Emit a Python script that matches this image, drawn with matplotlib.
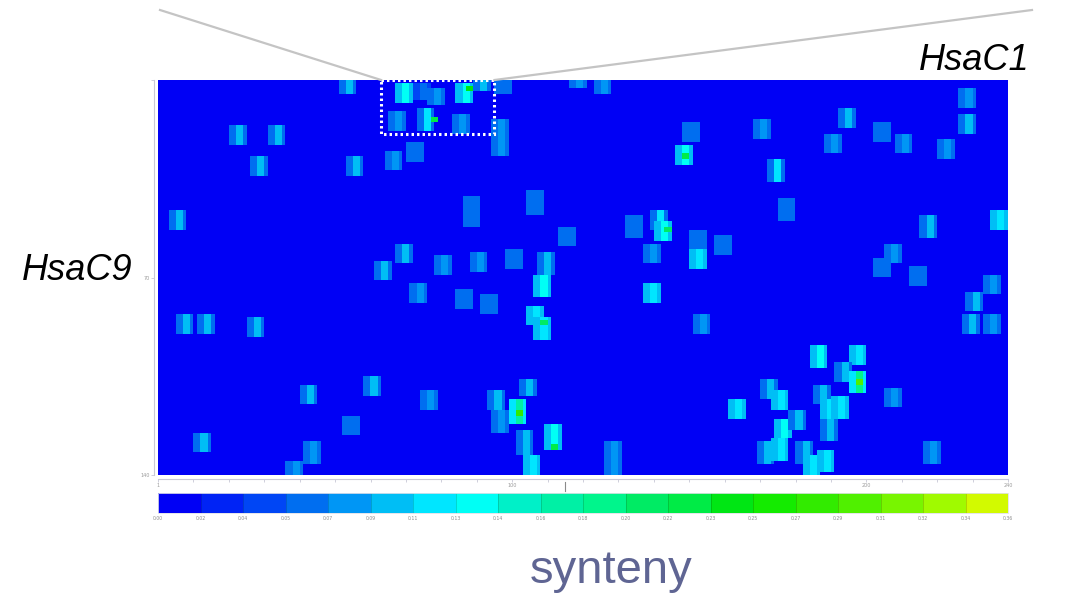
import numpy as np
import matplotlib
matplotlib.use("Agg")
import matplotlib.pyplot as plt
from matplotlib.colors import ListedColormap, BoundaryNorm
from matplotlib.colorbar import ColorbarBase
from matplotlib.patches import Rectangle
from matplotlib.lines import Line2D

# ---- genome extents (Mb) ----
HSA1_LEN = 240
HSA9_LEN = 140

# ---- syntenic blocks: start on HsaC1 (x, Mb), start on HsaC9 (y, Mb),
#      span on HsaC9 (Mb), flank score and core score ----
block_x = [51, 67, 72, 76, 84, 89, 65, 73, 83, 94, 95, 20, 31, 26, 53, 64, 70,
           116, 123, 226, 226, 192, 168, 202, 148, 146, 188, 208, 220, 172,
           86, 104, 3, 113, 132, 139, 140, 150, 150, 157, 175, 215, 235,
           67, 61, 78, 88, 98, 107, 106, 137, 137, 202, 205, 212, 71, 84, 91,
           233, 228, 5, 11, 25, 104, 106, 151, 227, 233, 184, 195, 191, 195,
           58, 74, 40, 93, 94, 99, 102, 170, 173, 185, 187, 190, 205, 161,
           52, 174, 178, 187, 10, 101, 109, 126, 169, 173, 180, 182, 186,
           216, 36, 103, 41]
block_y = [0, 1, 1, 3, 1, 0, 11, 10, 12, 14, 0, 16, 16, 27, 27, 25, 22,
           0, 0, 3, 12, 10, 14, 15, 15, 23, 19, 19, 21, 28,
           41, 39, 46, 52, 48, 46, 50, 53, 60, 55, 42, 48, 46,
           58, 64, 62, 61, 60, 61, 69, 58, 72, 63, 58, 66, 72, 74, 76,
           69, 75, 83, 83, 84, 80, 84, 83, 83, 83, 94, 94, 100, 103,
           105, 110, 108, 110, 117, 113, 106, 106, 110, 108, 113, 112, 109, 113,
           119, 120, 117, 120, 125, 124, 122, 128, 128, 127, 128, 133, 131,
           128, 135, 133, 128]
block_h = [5, 7, 6, 6, 7, 4, 7, 8, 7, 13, 5, 7, 7, 7, 7, 7, 7,
           3, 5, 7, 7, 7, 7, 7, 7, 7, 7, 7, 7, 8,
           11, 9, 7, 7, 8, 7, 7, 7, 7, 7, 8, 8, 7,
           7, 7, 7, 7, 7, 8, 8, 7, 7, 7, 7, 7, 7, 7, 7,
           7, 7, 7, 7, 7, 7, 8, 7, 7, 7, 8, 7, 7, 8,
           7, 7, 7, 7, 8, 9, 6, 7, 7, 7, 7, 8, 7, 7,
           7, 7, 7, 8, 7, 9, 9, 12, 8, 8, 8, 7, 8,
           8, 5, 7, 8]
block_flank = [0.07, 0.10, 0.05, 0.06, 0.10, 0.07, 0.07, 0.07, 0.07, 0.06, 0.06,
               0.07, 0.07, 0.07, 0.07, 0.06, 0.06,
               0.06, 0.06, 0.06, 0.06, 0.07, 0.06, 0.06, 0.06, 0.10, 0.06, 0.06,
               0.06, 0.07,
               0.06, 0.06, 0.07, 0.06, 0.06, 0.07, 0.10, 0.06, 0.10, 0.06, 0.06,
               0.07, 0.09,
               0.07, 0.07, 0.07, 0.07, 0.06, 0.07, 0.10, 0.06, 0.09, 0.06, 0.06,
               0.06, 0.06, 0.06, 0.06,
               0.06, 0.07, 0.07, 0.07, 0.07, 0.09, 0.09, 0.06, 0.07, 0.06, 0.10,
               0.10, 0.07, 0.12,
               0.07, 0.07, 0.07, 0.07, 0.06, 0.12, 0.07, 0.07, 0.10, 0.07, 0.09,
               0.10, 0.06, 0.09,
               0.06, 0.10, 0.07, 0.07, 0.07, 0.07, 0.10, 0.06, 0.07, 0.10, 0.07,
               0.09, 0.09,
               0.06, 0.06, 0.10, 0.06]
block_core = [0.09, 0.13, 0.07, 0.08, 0.13, 0.09, 0.08, 0.12, 0.08, 0.08, 0.07,
              0.10, 0.10, 0.10, 0.10, 0.08, 0.07,
              0.08, 0.08, 0.08, 0.09, 0.10, 0.08, 0.07, 0.07, 0.13, 0.08, 0.08,
              0.08, 0.12,
              0.07, 0.07, 0.10, 0.07, 0.07, 0.11, 0.13, 0.07, 0.12, 0.07, 0.07,
              0.09, 0.11,
              0.09, 0.09, 0.08, 0.08, 0.07, 0.10, 0.13, 0.08, 0.12, 0.07, 0.08,
              0.07, 0.08, 0.07, 0.07,
              0.08, 0.09, 0.10, 0.09, 0.10, 0.12, 0.12, 0.08, 0.10, 0.08, 0.13,
              0.12, 0.10, 0.19,
              0.09, 0.08, 0.09, 0.09, 0.08, 0.17, 0.10, 0.10, 0.12, 0.09, 0.12,
              0.12, 0.08, 0.11,
              0.07, 0.14, 0.09, 0.10, 0.10, 0.09, 0.13, 0.08, 0.10, 0.12, 0.09,
              0.11, 0.11,
              0.08, 0.08, 0.12, 0.08]

# ---- local synteny peaks (Mb) and their scores ----
peak_x = [87, 77, 148, 143, 108, 197, 101, 111]
peak_y = [2, 13, 26, 52, 85, 106, 117, 129]
peak_v = [0.25, 0.22, 0.22, 0.20, 0.20, 0.30, 0.27, 0.22]

# ---- colour scale ----
levels = np.linspace(0.0, 0.36, 21)
level_colors = ["#0000f5", "#0023f5", "#0046f5", "#006ef0", "#0096f5",
                "#00bef5", "#00e6ff", "#00fff5", "#00f0c8", "#00f0a5",
                "#00f58c", "#00eb64", "#00eb46", "#00e614", "#14eb00",
                "#32eb00", "#50f000", "#78f500", "#a0fa00", "#d2fa00"]

BLOCK_W = 5
CORE = slice(2, 4)

grid = np.zeros((HSA9_LEN, HSA1_LEN))
for x, y, h, f, c in zip(block_x, block_y, block_h, block_flank, block_core):
    grid[y:y + h, x:x + BLOCK_W] = f
    grid[y:y + h, x + CORE.start:x + CORE.stop] = c
for x, y, v in zip(peak_x, peak_y, peak_v):
    grid[y:y + 2, x:x + 2] = v

cmap = ListedColormap(level_colors)
norm = BoundaryNorm(levels, cmap.N)

W, H = 1076, 599
fig = plt.figure(figsize=(W / 100, H / 100), dpi=100)
fig.patch.set_facecolor("white")

ax = fig.add_axes([158 / W, 1 - 475 / H, 850 / W, 395 / H])
ax.imshow(grid, cmap=cmap, norm=norm, interpolation="nearest",
          extent=(0, HSA1_LEN, HSA9_LEN, 0), aspect="auto")
ax.set_xlim(0, HSA1_LEN)
ax.set_ylim(HSA9_LEN, 0)

axis_grey = "#c8c8d6"
for side in ("top", "right"):
    ax.spines[side].set_visible(False)
for side in ("left", "bottom"):
    ax.spines[side].set_color(axis_grey)
    ax.spines[side].set_linewidth(0.8)
    ax.spines[side].set_position(("outward", 3))

ax.set_xticks([0, 100, 200, 240])
ax.set_xticklabels(["1", "100", "200", "240"])
ax.set_xticks(np.arange(0, HSA1_LEN + 1, 10), minor=True)
ax.set_yticks([0, 70, 140])
ax.set_yticklabels(["", "70", "140"])
ax.tick_params(axis="both", which="both", colors=axis_grey, labelcolor="#9a9a9a",
               labelsize=3.5, length=2, width=0.6, pad=1)

# centromere marker on the HsaC1 axis
ax.plot([115, 115], [HSA9_LEN + 2.5, HSA9_LEN + 5.5], color="#8a8a8a",
        lw=0.8, clip_on=False)

# zoomed region
box_x0, box_x1, box_y1 = 63, 95, 19
ax.add_patch(Rectangle((box_x0, 0), box_x1 - box_x0, box_y1, fill=False,
                       edgecolor="white", lw=2.2, linestyle=(0, (0.8, 1.0)),
                       clip_on=False, zorder=5))

to_fig = ax.transData + fig.transFigure.inverted()
left_pt = to_fig.transform((box_x0, 0))
right_pt = to_fig.transform((box_x1, 0))
fig.add_artist(Line2D([160 / W, left_pt[0]], [1 - 10 / H, left_pt[1]],
                      transform=fig.transFigure, color="#c4c4c4", lw=1.6))
fig.add_artist(Line2D([1032 / W, right_pt[0]], [1 - 10 / H, right_pt[1]],
                      transform=fig.transFigure, color="#c4c4c4", lw=1.6))

# colour bar
cax = fig.add_axes([158 / W, 1 - 513 / H, 850 / W, 20 / H])
cb = ColorbarBase(cax, cmap=cmap, norm=norm, boundaries=levels, ticks=levels,
                  orientation="horizontal", drawedges=True)
cb.dividers.set_color((0, 0, 0, 0.18))
cb.dividers.set_linewidth(0.6)
cb.outline.set_edgecolor("#e0e0e8")
cb.outline.set_linewidth(0.6)
cax.set_xticklabels([f"{v:.2f}" for v in levels])
cax.tick_params(axis="x", length=0, labelsize=3.3, labelcolor="#8c8c8c", pad=2)

# labels
fig.text(22 / W, 1 - 270 / H, "HsaC9", family="Liberation Sans", style="italic",
         fontsize=26, ha="left", va="center", color="black")
fig.text(1030 / W, 1 - 60 / H, "HsaC1", family="Liberation Sans", style="italic",
         fontsize=26, ha="right", va="center", color="black")
fig.text(611 / W, 1 - 583 / H, "synteny", family="Liberation Sans",
         fontsize=34, ha="center", va="baseline", color="#5f6593")

fig.savefig("out.png", dpi=100, facecolor="white")
